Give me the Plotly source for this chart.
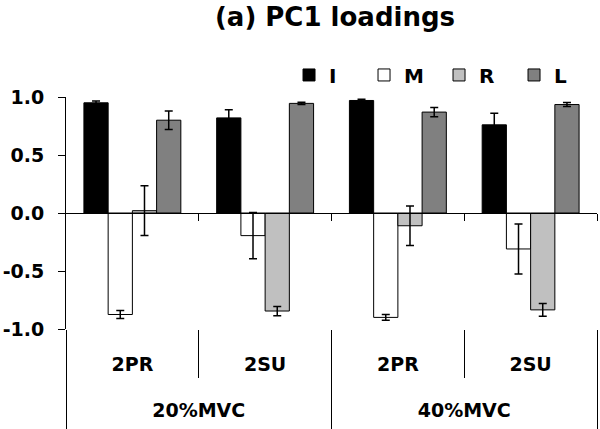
import plotly.graph_objects as go

outer_cats = ["20%MVC", "40%MVC"]
inner_cats = ["2PR", "2SU", "2PR", "2SU"]

series_names = ["I", "M", "R", "L"]
I_vals = [0.95, 0.82, 0.97, 0.76]
I_err = [0.015, 0.07, 0.01, 0.10]
M_vals = [-0.875, -0.195, -0.90, -0.31]
M_err = [0.035, 0.20, 0.025, 0.215]
R_vals = [0.02, -0.845, -0.11, -0.835]
R_err = [0.215, 0.04, 0.17, 0.055]
L_vals = [0.80, 0.945, 0.87, 0.935]
L_err = [0.08, 0.01, 0.04, 0.017]

colors = ["#000000", "#ffffff", "#c0c0c0", "#808080"]

y_tickvals = [-1.0, -0.5, 0.0, 0.5, 1.0]
y_ticktext = ["-1.0", "-0.5", "0.0", "0.5", "1.0"]

FONT = "DejaVu Sans"

n_inner = len(inner_cats)
per_outer = n_inner // len(outer_cats)
x_pos = list(range(n_inner))
x_range = [-0.5, n_inner - 0.5]
inner_bounds = [i - 0.5 for i in range(n_inner + 1)]
outer_bounds = [i * per_outer - 0.5 for i in range(len(outer_cats) + 1)]
outer_centers = [i * per_outer + (per_outer - 1) / 2 for i in range(len(outer_cats))]

fig = go.Figure()
for name, vals, errs, col in zip(series_names, [I_vals, M_vals, R_vals, L_vals],
                                 [I_err, M_err, R_err, L_err], colors):
    fig.add_trace(go.Bar(
        name=name,
        x=x_pos,
        y=vals,
        marker=dict(color=col, line=dict(color="#000000", width=1)),
        error_y=dict(type="data", array=errs, visible=True, color="#000000",
                     thickness=1.5, width=4),
    ))

# helper (empty) traces so the extra axes are drawn
fig.add_trace(go.Scatter(x=[], y=[], xaxis="x2", showlegend=False, hoverinfo="skip"))
fig.add_trace(go.Scatter(x=[], y=[], xaxis="x3", showlegend=False, hoverinfo="skip"))

fig.update_layout(
    width=600, height=429,
    margin=dict(l=66, r=3, t=97, b=100, autoexpand=False),
    paper_bgcolor="white", plot_bgcolor="white",
    font=dict(family=FONT, size=19, color="#000000", weight="bold"),
    barmode="group", bargap=0.27, bargroupgap=0,
    title=dict(text="(a) PC1 loadings", font=dict(family=FONT, size=26, weight="bold"),
               x=335 / 600, xanchor="center", xref="container",
               y=1 - 17 / 429, yanchor="middle", yref="container"),
    legend=dict(orientation="h", x=0.42, xanchor="left", y=1.095, yanchor="middle",
                font=dict(family=FONT, size=20, weight="bold"),
                bgcolor="rgba(0,0,0,0)", traceorder="normal", entrywidth=30),
    # inner category labels + short separators
    xaxis=dict(type="linear", range=x_range, showline=False, showgrid=False, zeroline=False,
               tickmode="array", tickvals=x_pos, ticktext=inner_cats,
               ticks="", ticklabelstandoff=22, automargin=False,
               minor=dict(tickmode="array", tickvals=inner_bounds, ticks="outside",
                          ticklen=48, tickcolor="#000000", tickwidth=1, showgrid=False),
               tickfont=dict(family=FONT, size=19, weight="bold")),
    # zero-line axis with ticks at category boundaries
    xaxis2=dict(type="linear", overlaying="x", anchor="free", position=0.5,
                range=x_range, showline=True, linecolor="#000000", linewidth=1,
                ticks="outside", ticklen=7, tickcolor="#000000",
                tickvals=inner_bounds[1:], showticklabels=False,
                showgrid=False, zeroline=False),
    # outer category labels + long separators
    xaxis3=dict(type="linear", overlaying="x", anchor="y", side="bottom",
                range=x_range, showline=False, showgrid=False, zeroline=False,
                tickmode="array", tickvals=outer_centers, ticktext=outer_cats,
                ticks="", ticklabelstandoff=68, automargin=False,
                minor=dict(tickmode="array", tickvals=outer_bounds, ticks="outside",
                           ticklen=100, tickcolor="#000000", tickwidth=1, showgrid=False),
                tickfont=dict(family=FONT, size=19, weight="bold")),
    yaxis=dict(range=[-1, 1], tickmode="array", tickvals=y_tickvals, ticktext=y_ticktext,
               showline=True, linecolor="#000000", linewidth=1,
               ticks="outside", ticklen=7, tickcolor="#000000",
               showgrid=False, zeroline=False, ticklabelstandoff=10, automargin=False,
               tickfont=dict(family=FONT, size=19, weight="bold")),
)

fig.write_html("out.html", config={"displayModeBar": False},
               post_script="document.body.style.margin='0';")
